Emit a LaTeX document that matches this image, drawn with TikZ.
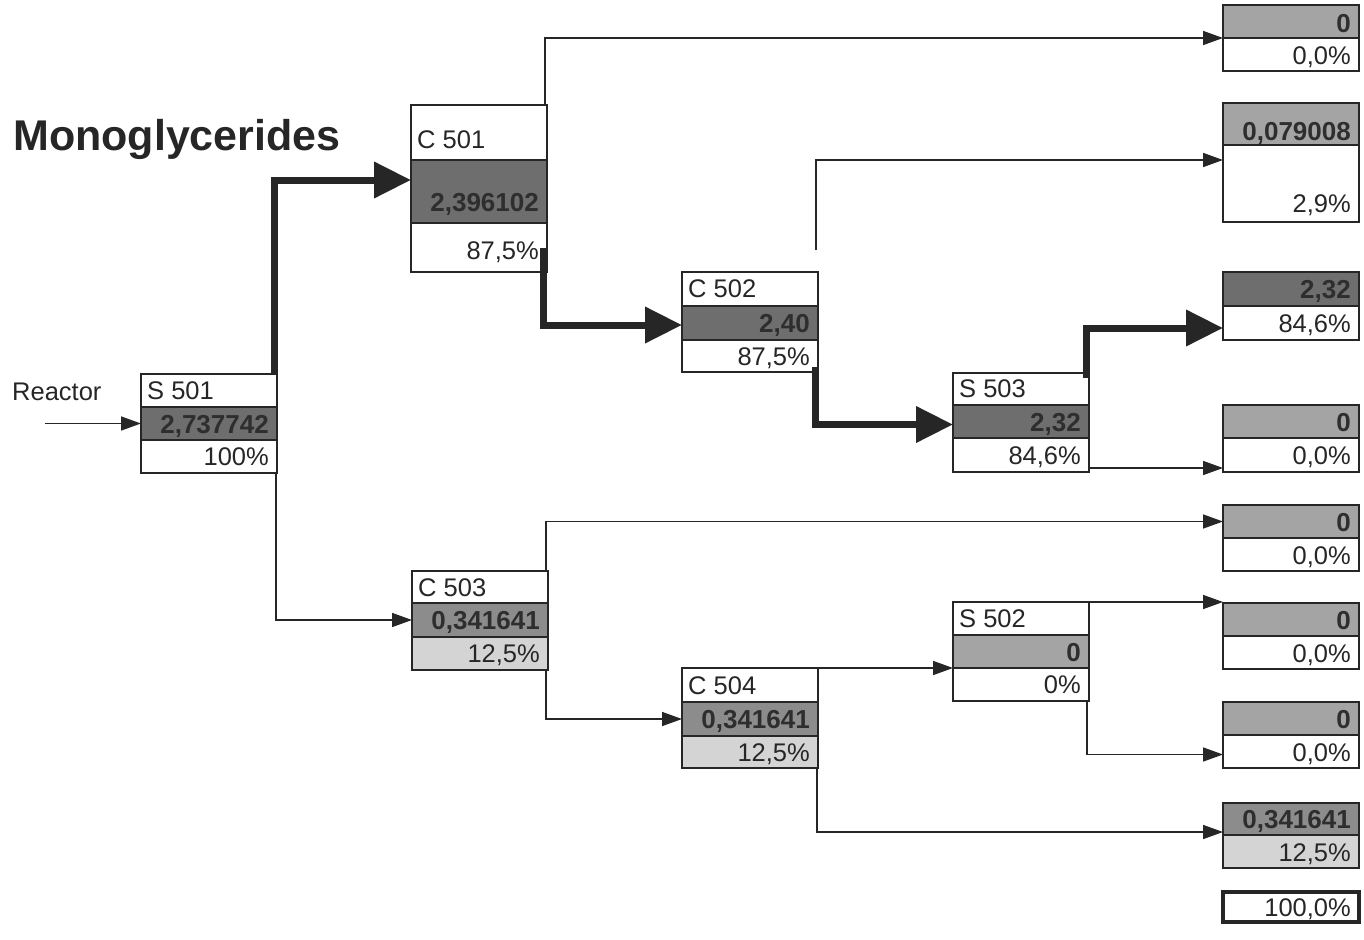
\documentclass[tikz,border=0pt]{standalone}
\usepackage{fontspec}
\setmainfont{Liberation Sans}
\usetikzlibrary{arrows.meta}

\definecolor{ink}{HTML}{262626}
\definecolor{numink}{HTML}{2E2E2E}
\definecolor{fillA}{HTML}{6E6E6E}
\definecolor{fillB}{HTML}{8C8C8C}
\definecolor{fillC}{HTML}{A4A4A4}
\definecolor{fillD}{HTML}{D4D4D4}

% one row of a flow table: name, x, top, height, fill
\newcommand\cellrow[5]{\node[cell,fill=#5,minimum height=#4pt] (#1) at (#2,#3) {};}
% right-aligned figure in a row: row name, baseline lift, style, text
\newcommand\valtext[4]{\node[#3,anchor=base east] (#1t) at ([xshift=-8pt,yshift=#2pt]#1.south east) {#4};}
% left-aligned unit name in a row: row name, baseline lift, text
\newcommand\headtext[3]{\node[pct,anchor=base west] (#1t) at ([xshift=6pt,yshift=#2pt]#1.south west) {#3};}

\tikzset{
  cell/.style={draw=ink, line width=2pt, minimum width=136pt, inner sep=0pt, outer sep=0pt, anchor=north west},
  num/.style={font=\fontsize{26}{29}\selectfont\bfseries, text=numink, inner sep=0pt},
  pct/.style={font=\fontsize{25.5}{28}\selectfont, text=ink, inner sep=0pt},
  thinflow/.style={draw=ink, line width=1.6pt, -{Triangle[length=20pt,width=14pt]}},
  thickflow/.style={draw=ink, line width=7pt, -{Triangle[length=37pt,width=35pt]}}
}

\begin{document}
\begin{tikzpicture}[x=1pt,y=-1pt]
\useasboundingbox (0,0) rectangle (1364,939);

% title and feed
\node[anchor=base west, inner sep=0pt, font=\fontsize{43}{47}\selectfont\bfseries, text=ink] (title) at (13,150) {Monoglycerides};
\node[pct, anchor=base west] (reactor) at (12,400) {Reactor};
\coordinate (feed) at (45,423.5);

% S 501
\cellrow{s501a}{141}{374}{33}{white}
\cellrow{s501b}{141}{407}{33}{fillA}
\cellrow{s501c}{141}{440}{33}{white}
\headtext{s501a}{8}{S 501}
\valtext{s501b}{7}{num}{2,737742}
\valtext{s501c}{8}{pct}{100\%}

% C 501
\cellrow{c501a}{411}{105}{55}{white}
\cellrow{c501b}{411}{160}{63}{fillA}
\cellrow{c501c}{411}{223}{49}{white}
\headtext{c501a}{12}{C 501}
\valtext{c501b}{12}{num}{2,396102}
\valtext{c501c}{13}{pct}{87,5\%}

% C 502
\cellrow{c502a}{682}{272}{34}{white}
\cellrow{c502b}{682}{306}{34}{fillA}
\cellrow{c502c}{682}{340}{32}{white}
\headtext{c502a}{9}{C 502}
\valtext{c502b}{8}{num}{2,40}
\valtext{c502c}{7}{pct}{87,5\%}

% S 503
\cellrow{s503a}{953}{373}{32}{white}
\cellrow{s503b}{953}{405}{33}{fillA}
\cellrow{s503c}{953}{438}{34}{white}
\headtext{s503a}{8}{S 503}
\valtext{s503b}{7}{num}{2,32}
\valtext{s503c}{8}{pct}{84,6\%}

% C 503
\cellrow{c503a}{412}{571}{32}{white}
\cellrow{c503b}{412}{603}{34}{fillB}
\cellrow{c503c}{412}{637}{33}{fillD}
\headtext{c503a}{7}{C 503}
\valtext{c503b}{8}{num}{0,341641}
\valtext{c503c}{8}{pct}{12,5\%}

% C 504
\cellrow{c504a}{682}{668}{34}{white}
\cellrow{c504b}{682}{702}{34}{fillB}
\cellrow{c504c}{682}{736}{32}{fillD}
\headtext{c504a}{8}{C 504}
\valtext{c504b}{8}{num}{0,341641}
\valtext{c504c}{7}{pct}{12,5\%}

% S 502
\cellrow{s502a}{953}{602}{33}{white}
\cellrow{s502b}{953}{635}{33}{fillC}
\cellrow{s502c}{953}{668}{33}{white}
\headtext{s502a}{8}{S 502}
\valtext{s502b}{7}{num}{0}
\valtext{s502c}{8}{pct}{0\%}

% product streams
\cellrow{r1a}{1223}{5}{33}{fillC}
\cellrow{r1b}{1223}{38}{33}{white}
\valtext{r1a}{5}{num}{0}
\valtext{r1b}{6}{pct}{0,0\%}

\cellrow{r2a}{1223}{103}{42}{fillC}
\cellrow{r2b}{1223}{145}{77}{white}
\valtext{r2a}{5}{num}{0,079008}
\valtext{r2b}{10}{pct}{2,9\%}

\cellrow{r3a}{1223}{272}{34}{fillA}
\cellrow{r3b}{1223}{306}{34}{white}
\valtext{r3a}{8}{num}{2,32}
\valtext{r3b}{8}{pct}{84,6\%}

\cellrow{r4a}{1223}{405}{33}{fillC}
\cellrow{r4b}{1223}{438}{34}{white}
\valtext{r4a}{7}{num}{0}
\valtext{r4b}{8}{pct}{0,0\%}

\cellrow{r5a}{1223}{505}{33}{fillC}
\cellrow{r5b}{1223}{538}{33}{white}
\valtext{r5a}{7}{num}{0}
\valtext{r5b}{7}{pct}{0,0\%}

\cellrow{r6a}{1223}{603}{33}{fillC}
\cellrow{r6b}{1223}{636}{33}{white}
\valtext{r6a}{7}{num}{0}
\valtext{r6b}{7}{pct}{0,0\%}

\cellrow{r7a}{1223}{702}{33}{fillC}
\cellrow{r7b}{1223}{735}{33}{white}
\valtext{r7a}{7}{num}{0}
\valtext{r7b}{7}{pct}{0,0\%}

\cellrow{r8a}{1223}{803}{32}{fillB}
\cellrow{r8b}{1223}{835}{33}{fillD}
\valtext{r8a}{7}{num}{0,341641}
\valtext{r8b}{7}{pct}{12,5\%}

% overall balance
\node[cell, line width=3.5pt, minimum height=30pt] (total) at (1223,892) {};
\valtext{total}{6}{pct}{100,0\%}

% thin streams
\draw[thinflow] (feed) -- (s501b.west);
\draw[thinflow] ([xshift=-1pt]s501c.south east) |- (c503b.west);
\draw[thinflow] ([xshift=-2pt]c501a.north east) |- (r1a.south west);
\draw[thinflow] ([xshift=-2pt,yshift=22pt]c502a.north east) |- ([yshift=-15pt]r2a.south west);
\draw[thinflow] ([yshift=4pt]s503c.south east) -- ([yshift=4pt]r4b.south west);
\draw[thinflow] ([xshift=-2pt]c503a.north east) |- (r5a.west);
\draw[thinflow] ([xshift=-2pt]c503c.south east) |- (c504b.west);
\draw[thinflow] (c504a.north east) -- (s502b.south west);
\draw[thinflow] (s502a.north east) -- ([yshift=1pt]r6a.north west);
\draw[thinflow] ([xshift=-2pt]s502c.south east) |- ([yshift=-3pt]r7b.west);
\draw[thinflow] ([xshift=-1pt]c504c.south east) |- ([yshift=3pt]r8a.south west);

% main product path
\draw[thickflow] ([xshift=-3pt]s501a.north east) |- ([yshift=11.5pt]c501b.west);
\draw[thickflow] ([xshift=-4pt]c501c.east) |- ([yshift=-2pt]c502b.west);
\draw[thickflow] ([xshift=-3pt,yshift=5pt]c502c.south east) |- ([yshift=-3pt]s503b.west);
\draw[thickflow] ([xshift=-3pt,yshift=-5pt]s503a.north east) |- ([yshift=-5pt]r3b.west);
\end{tikzpicture}
\end{document}
